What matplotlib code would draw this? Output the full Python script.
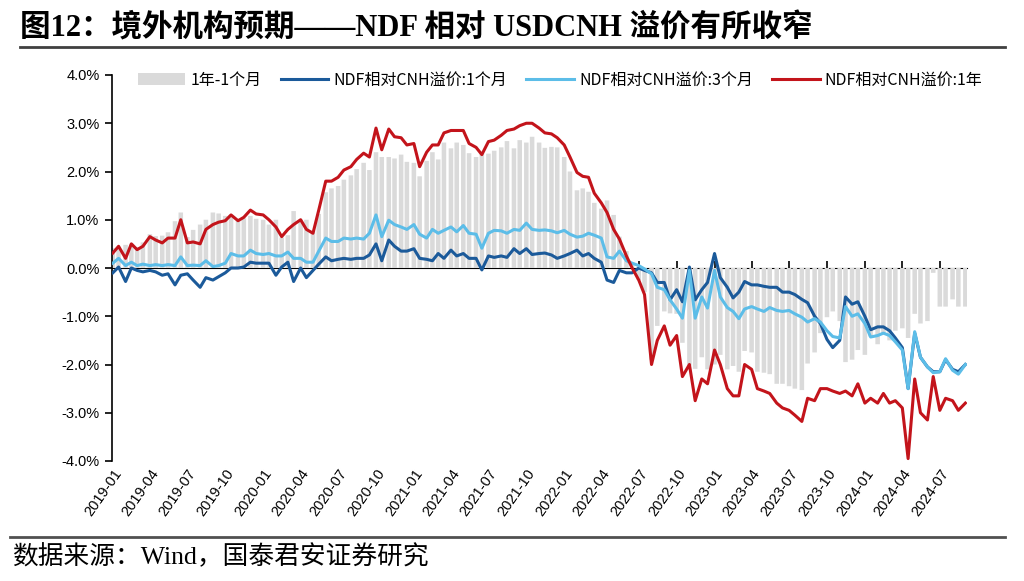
import matplotlib
matplotlib.use('Agg')
import matplotlib.pyplot as plt
import matplotlib.dates as mdates
from matplotlib.lines import Line2D
from matplotlib.ticker import FuncFormatter
import pandas as pd

# semi-monthly readings, 2019-01-01 .. 2024-09-01 (%)
ndf_1y = [0.31, 0.45, 0.2, 0.5, 0.38, 0.45, 0.65, 0.58, 0.52, 0.62,
          0.62, 1.0, 0.52, 0.54, 0.5, 0.8, 0.9, 0.95, 0.98, 1.1,
          0.98, 1.05, 1.2, 1.12, 1.1, 1.0, 0.85, 0.65, 0.8, 0.9,
          1.0, 0.8, 0.72, 1.2, 1.8, 1.8, 1.88, 2.03, 2.1, 2.25,
          2.38, 2.3, 2.9, 2.45, 2.88, 2.72, 2.7, 2.55, 2.58, 2.1,
          2.4, 2.55, 2.55, 2.8, 2.85, 2.85, 2.85, 2.58, 2.5, 2.35,
          2.62, 2.65, 2.75, 2.85, 2.88, 2.95, 3.0, 3.0, 2.9, 2.8,
          2.78, 2.7, 2.55, 2.3, 1.98, 1.9, 1.88, 1.55, 1.35, 1.15,
          0.8, 0.6, 0.25, 0.0, -0.25, -0.55, -2.0, -1.5, -1.2, -1.6,
          -1.4, -2.25, -2.0, -2.75, -2.3, -2.4, -1.7, -2.0, -2.5, -2.65,
          -2.65, -2.0, -2.1, -2.5, -2.55, -2.6, -2.8, -2.9, -2.95, -3.05,
          -3.18, -2.7, -2.75, -2.5, -2.5, -2.55, -2.6, -2.55, -2.65, -2.4,
          -2.8, -2.7, -2.8, -2.6, -2.8, -2.75, -2.9, -3.95, -2.3, -3.0,
          -3.15, -2.25, -2.95, -2.7, -2.75, -2.95, -2.8]

ndf_1m = [-0.1, 0.02, -0.28, 0.0, -0.05, -0.08, -0.05, -0.08, -0.15, -0.12,
          -0.35, -0.15, -0.12, -0.25, -0.4, -0.2, -0.25, -0.18, -0.1, 0.0,
          0.0, 0.02, 0.12, 0.1, 0.1, 0.1, -0.15, 0.02, 0.12, -0.28,
          0.0, -0.2, -0.05, 0.08, 0.23, 0.15, 0.18, 0.2, 0.18, 0.2,
          0.2, 0.27, 0.5, 0.15, 0.58, 0.45, 0.35, 0.35, 0.4, 0.2,
          0.18, 0.15, 0.3, 0.2, 0.37, 0.25, 0.3, 0.2, 0.2, -0.04,
          0.25, 0.22, 0.25, 0.22, 0.4, 0.3, 0.4, 0.28, 0.3, 0.31,
          0.27, 0.2, 0.25, 0.3, 0.37, 0.25, 0.3, 0.2, 0.12, -0.25,
          -0.3, -0.05, -0.1, -0.1, 0.0, -0.05, -0.1, -0.3, -0.3, -0.66,
          -0.45, -0.7, 0.02, -0.66, -0.45, -0.3, 0.3, -0.2, -0.4, -0.62,
          -0.5, -0.28, -0.35, -0.35, -0.38, -0.4, -0.4, -0.5, -0.5, -0.55,
          -0.65, -0.72, -1.0, -1.15, -1.48, -1.65, -1.5, -0.6, -0.75, -0.7,
          -1.0, -1.28, -1.22, -1.22, -1.3, -1.45, -1.65, -2.5, -1.35, -1.85,
          -2.05, -2.15, -2.15, -1.9, -2.1, -2.15, -2.0]

ndf_3m = [0.1, 0.2, 0.05, 0.12, 0.05, 0.08, 0.05, 0.07, 0.05, 0.07,
          0.05, 0.23, 0.05, 0.06, 0.05, 0.15, 0.03, 0.05, 0.1, 0.3,
          0.25, 0.25, 0.37, 0.3, 0.28, 0.3, 0.25, 0.25, 0.33, 0.2,
          0.2, 0.12, 0.12, 0.35, 0.62, 0.55, 0.55, 0.62, 0.6, 0.62,
          0.6, 0.72, 1.1, 0.65, 0.99, 0.9, 0.85, 0.8, 0.9, 0.7,
          0.62, 0.8, 0.72, 0.78, 0.85, 0.75, 0.88, 0.72, 0.7, 0.41,
          0.72, 0.78, 0.77, 0.72, 0.8, 0.78, 0.93, 0.8, 0.78, 0.79,
          0.77, 0.73, 0.78, 0.7, 0.64, 0.66, 0.72, 0.68, 0.62, 0.23,
          0.2, 0.35, 0.15, 0.1, 0.05, -0.02, -0.12, -0.4, -0.45, -0.66,
          -0.85, -1.04, -0.05, -1.04, -0.6, -0.83, -0.05, -0.6, -0.82, -0.9,
          -1.05, -0.85, -0.8, -0.85, -0.9, -0.82, -0.88, -0.9, -0.88, -0.95,
          -1.02, -1.12, -1.05, -1.12, -1.3, -1.42, -1.45, -0.8, -1.0, -0.95,
          -1.15, -1.43, -1.4, -1.35, -1.4, -1.53, -1.7, -2.5, -1.32, -1.85,
          -2.05, -2.17, -2.15, -1.88, -2.12, -2.2, -2.0]

labels = ['1年-1个月', 'NDF相对CNH溢价:1个月', 'NDF相对CNH溢价:3个月', 'NDF相对CNH溢价:1年']
tick_dates = pd.date_range('2019-01-01', '2024-07-01', freq='QS')

dates = pd.date_range('2019-01-01', periods=len(ndf_1y), freq='SMS')
spread = [a - b for a, b in zip(ndf_1y, ndf_1m)]

cjk = ['Noto Sans CJK SC', 'DejaVu Sans']
serif_cjk = ['Liberation Serif', 'Noto Sans CJK SC']

fig = plt.figure(figsize=(10.24, 5.81), dpi=100)
ax = fig.add_axes([112 / 1024, 1 - 461 / 581, 855 / 1024, 386 / 581])

bars = ax.bar(dates, spread, width=11, color='#dadada', label=labels[0], zorder=1)
for b in bars:
    b.set_snap(False)
l1, = ax.plot(dates, ndf_1m, color='#1b5a9a', lw=2.2, label=labels[1], zorder=3)
l2, = ax.plot(dates, ndf_3m, color='#5cbde8', lw=2.2, label=labels[2], zorder=4)
l3, = ax.plot(dates, ndf_1y, color='#c3141b', lw=2.2, label=labels[3], zorder=5)

ax.set_ylim(-4, 4)
ax.set_yticks([-4, -3, -2, -1, 0, 1, 2, 3, 4])
ax.yaxis.set_major_formatter(FuncFormatter(lambda v, p: f'{v:.1f}%'))
ax.set_xlim(pd.Timestamp('2018-12-30'), pd.Timestamp('2024-09-05'))

for s in ['top', 'right', 'bottom']:
    ax.spines[s].set_visible(False)
ax.spines['left'].set_linewidth(1.2)
ax.tick_params(axis='y', direction='out', length=5, width=1.2, labelsize=10.5, pad=4)
for t in ax.get_yticklabels():
    t.set_fontfamily('Liberation Sans')

ax.set_xticks(tick_dates)
ax.xaxis.set_major_formatter(mdates.DateFormatter('%Y-%m'))
ax.tick_params(axis='x', length=0, labelsize=10.5, pad=4)
for t in ax.get_xticklabels():
    t.set_rotation(55)
    t.set_ha('right')
    t.set_rotation_mode('anchor')
    t.set_fontfamily('Liberation Sans')

# zero line with quarter ticks
zero_ax = ax.secondary_xaxis(0.5)
zero_ax.set_xticks(tick_dates)
zero_ax.tick_params(axis='x', direction='out', length=5, width=1.2, labelbottom=False, labeltop=False)
zero_ax.spines['bottom'].set_linewidth(1.3)

ax.legend([bars, l1, l2, l3], labels, loc='center', bbox_to_anchor=(560 / 1024, 1 - 80 / 581),
          bbox_transform=fig.transFigure, ncol=4, frameon=False, prop={'family': cjk, 'size': 11.5},
          handlelength=3.0, columnspacing=1.2, handletextpad=0.3)

fig.text(20 / 1024, 1 - 28 / 581, '图12：境外机构预期——NDF 相对 USDCNH 溢价有所收窄',
         fontsize=22, fontweight='bold', family=serif_cjk, va='center', ha='left')
fig.add_artist(Line2D([20 / 1024, 1005 / 1024], [1 - 47 / 581] * 2, color='#404040', lw=2))
fig.add_artist(Line2D([10 / 1024, 1005 / 1024], [1 - 537 / 581] * 2, color='#505050', lw=2))
fig.text(12 / 1024, 1 - 557 / 581, '数据来源：Wind，国泰君安证券研究',
         fontsize=18.5, family=serif_cjk, va='center', ha='left')

fig.savefig('out.png', dpi=100)
